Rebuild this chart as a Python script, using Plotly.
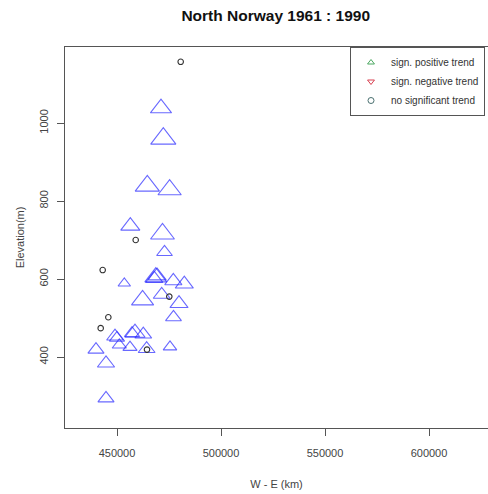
import plotly.graph_objects as go

# Stations with significant positive trend (W-E coordinate, elevation, trend magnitude)
pos_x = [471150, 472260, 464570, 475300, 456400, 471870, 472840, 453510, 468650, 469300,
         467900, 477070, 482360, 462300, 471490, 479810, 477160, 449040, 450000, 458650,
         462640, 457210, 456250, 451110, 439900, 464250, 475480, 444710, 444710]
pos_y = [1038, 960, 839, 829, 736, 716, 669, 589, 605, 608,
         601, 595, 587, 546, 560, 537, 502, 453, 449, 462,
         458, 461, 425, 431, 419, 421, 426, 384, 294]
pos_mag = [1.75, 2.08, 2.0, 1.92, 1.58, 1.97, 1.3, 1.03, 1.81, 1.5,
           1.42, 1.42, 1.5, 1.83, 1.39, 1.5, 1.31, 1.38, 1.25, 1.67,
           1.39, 1.25, 1.17, 1.17, 1.33, 1.39, 1.12, 1.42, 1.33]

# Stations with no significant trend
neu_x = [480620, 458990, 443120, 475140, 445830, 442160, 464420]
neu_y = [1157, 700, 623, 555, 502, 474, 419]

x_ticks = [450000, 500000, 550000, 600000]
y_ticks = [400, 600, 800, 1000]
legend_labels = ["sign. positive trend", "sign. negative trend", "no significant trend"]

FONT = "Liberation Sans, Arial, sans-serif"
AX = "#444444"

fig = go.Figure()

fig.add_trace(go.Scatter(
    x=pos_x, y=pos_y, mode="markers", showlegend=False,
    marker=dict(symbol="triangle-up-open", size=[10.5 * m for m in pos_mag],
                color="rgb(40,40,255)", line=dict(width=1.1, color="rgb(40,40,255)")),
))
fig.add_trace(go.Scatter(
    x=neu_x, y=neu_y, mode="markers", showlegend=False,
    marker=dict(symbol="circle-open", size=5.5, color="#333333",
                line=dict(width=1.1, color="#333333")),
))

# legend entries
leg_sym = ["triangle-up-open", "triangle-down-open", "circle-open"]
leg_col = ["#4aa860", "#d84050", "#4a7070"]
for lab, sym, col in zip(legend_labels, leg_sym, leg_col):
    fig.add_trace(go.Scatter(
        x=[None], y=[None], mode="markers", name=lab,
        marker=dict(symbol=sym, size=6, color=col, line=dict(width=1, color=col)),
    ))

fig.update_layout(
    width=488, height=494,
    margin=dict(l=65, r=0, t=47, b=66, autoexpand=False),
    paper_bgcolor="white", plot_bgcolor="white",
    font=dict(family=FONT, size=11, color=AX),
    title=dict(text="<b>North Norway 1961 : 1990</b>", x=0.565, xanchor="center",
               y=1 - 16 / 494, yanchor="middle",
               font=dict(family=FONT, size=15.5, color="#111111")),
    showlegend=True,
    legend=dict(x=(350 - 65) / 423, xanchor="left", y=1, yanchor="top",
                bordercolor="#555555", borderwidth=1, bgcolor="white",
                font=dict(family=FONT, size=10, color="#333333"),
                tracegroupgap=0, itemwidth=30),
)

fig.update_xaxes(
    range=[425000, 628365], tickvals=x_ticks, ticktext=[str(v) for v in x_ticks],
    showgrid=False, zeroline=False, showline=True, linecolor="#555555", linewidth=1,
    mirror=True, ticks="outside", ticklen=7, tickcolor="#555555", automargin=False,
    ticklabelstandoff=8,
    title=dict(text="W - E (km)", standoff=22, font=dict(family=FONT, size=11, color=AX)),
)
fig.update_yaxes(
    range=[218, 1195], tickvals=y_ticks, ticktext=[str(v) for v in y_ticks],
    showgrid=False, zeroline=False, showline=True, linecolor="#555555", linewidth=1,
    ticks="outside", ticklen=7, tickcolor="#555555", tickangle=-90, automargin=False,
    ticklabelstandoff=5,
    title=dict(text="Elevation(m)", standoff=10, font=dict(family=FONT, size=11, color=AX)),
)

fig.write_html("out.html", config={"displayModeBar": False},
               post_script="document.body.style.margin='0';document.body.style.padding='0';")
